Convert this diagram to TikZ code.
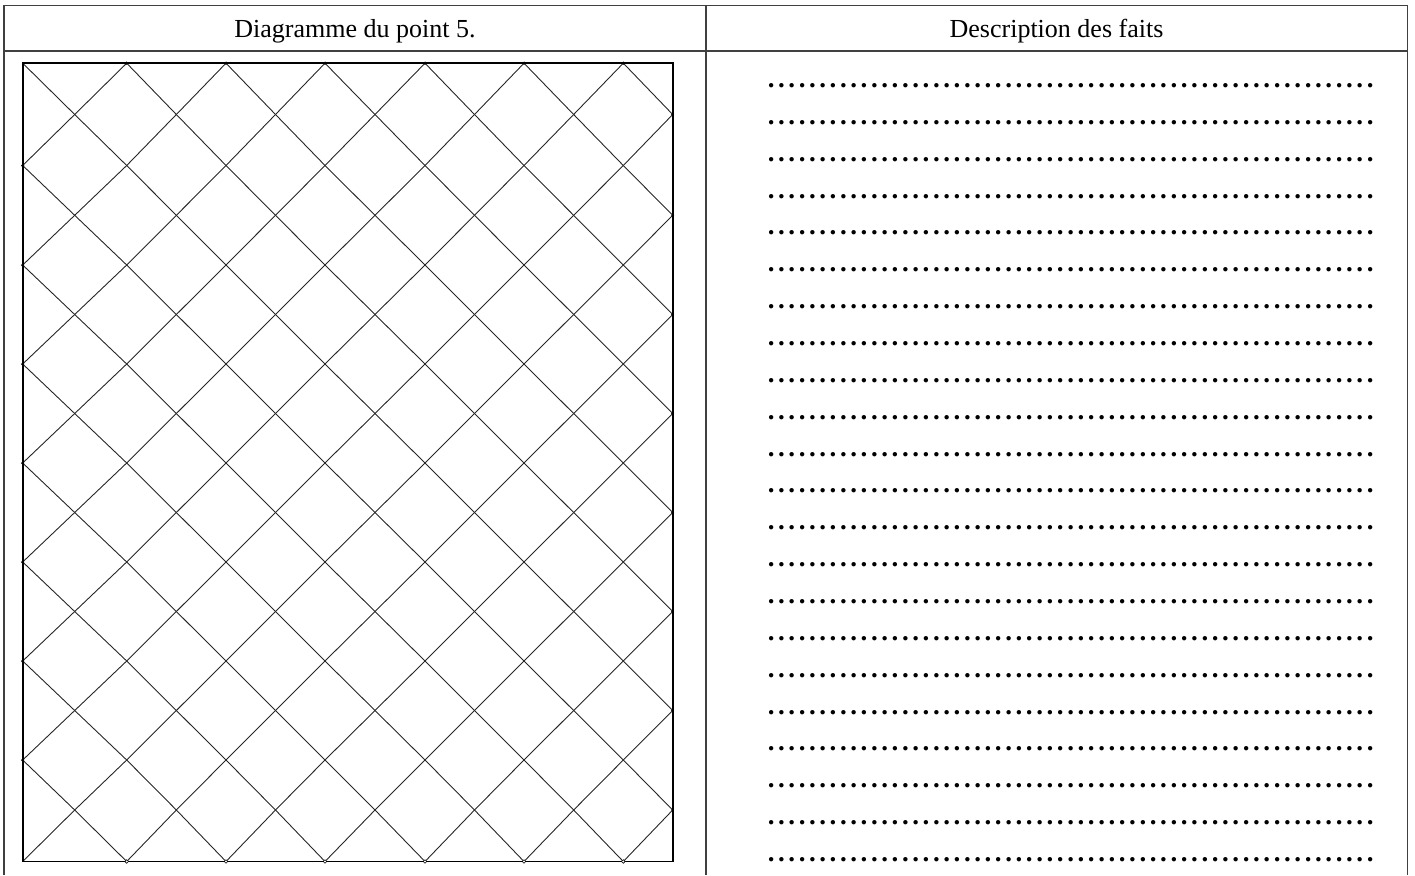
\documentclass[tikz,border=0pt]{standalone}
\usepackage{fontspec}
\setmainfont{Liberation Serif}
\newcommand\mydotrow{\hbox to 609.3pt{\xleaders\hbox to 10.325pt{\hss.\hss}\hfill}}
\def\xlist{22.7,74.7,126.7,176.35,226,275.5,325,375,425,474.5,524,573.65,623.3,672.7}
\def\ylist{63.2,114.5,165.5,215.3,265,314.5,364,413.5,463,512.5,562,611.5,661,710.5,760,810,861.5}
\begin{document}
\begin{tikzpicture}[x=1pt,y=-1pt,
  tab/.style={draw=black!75,line width=1.4pt},
  gl/.style={draw=black!85,line width=0.9pt},
  frame/.style={draw=black,line width=1.8pt},
  hdr/.style={anchor=base,inner sep=0pt,font=\fontsize{26}{31}\selectfont},
  dotline/.style={anchor=base west,inner sep=0pt,font=\fontsize{27}{31}\selectfont\bfseries}]
\useasboundingbox (0,0) rectangle (1415,875);
% table
\draw[tab] (4,875) -- (4,5.7) -- (1407.5,5.7) -- (1407.5,875);
\draw[tab] (4,51) -- (1407.5,51);
\draw[tab] (706,5.7) -- (706,875);
\node[hdr] (h1) at (355,37.7) {Diagramme du point 5.};
\node[hdr] (h2) at (1056.5,37.7) {Description des faits};
% lattice
\foreach \i in {0,...,13}{\foreach \j in {0,...,16}{
  \pgfmathsetmacro\px{{\xlist}[\i]}
  \pgfmathsetmacro\py{{\ylist}[\j]}
  \coordinate (p\i-\j) at (\px,\py);}}
\foreach \i in {0,...,12}{\foreach \j in {0,...,16}{
  \pgfmathtruncatemacro\ii{\i+1}
  \pgfmathtruncatemacro\jp{\j+1}
  \pgfmathtruncatemacro\jm{\j-1}
  \pgfmathtruncatemacro\pty{mod(\i+\j,2)}
  \ifnum\pty=0
    \ifnum\j<16 \draw[gl] (p\i-\j) -- (p\ii-\jp);\fi
    \ifnum\j>0 \draw[gl] (p\i-\j) -- (p\ii-\jm);\fi
  \fi}}
\draw[frame] (p0-0) rectangle (p13-16);
\foreach \i in {2,4,...,12}{\fill (p\i-0) circle (1.7);}
\foreach \j in {2,4,...,14}{\fill (p0-\j) circle (1.7);}
\foreach \j in {1,3,...,15}{\fill (p13-\j) circle (1.5);}
\foreach \i in {2,4,...,12}{\draw[line width=0.6pt,fill=white] (p\i-16) circle (1.8);}
% dotted rows
\foreach \k in {0,...,21}{
  \pgfmathsetmacro\ry{86+\k*36.857+1.5}
  \node[dotline] (row\k) at (765.8,\ry) {\mydotrow};}
\end{tikzpicture}
\end{document}
